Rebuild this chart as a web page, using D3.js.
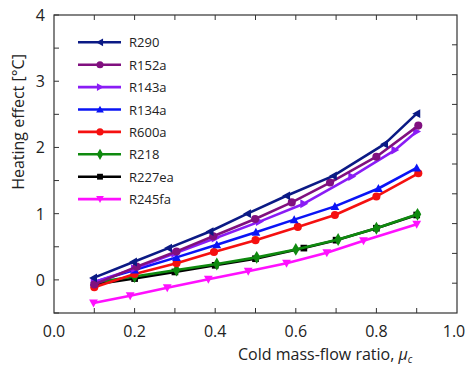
<!doctype html>
<html lang="en-US">
<head>
<meta charset="utf-8">
<title>Heating effect</title>
<script src="https://cdnjs.cloudflare.com/ajax/libs/d3/7.8.5/d3.min.js"></script>
<style>
  html, body { margin: 0; padding: 0; background: #fff; }
  svg { display: block; }
  text { font-family: "Open Sans", "Noto Sans", sans-serif; fill: #222; }
</style>
</head>
<body>
<svg id="chart" width="466" height="367"></svg>
<script>
// series names, in legend order
var names = ["R290", "R152a", "R143a", "R134a", "R600a", "R218", "R227ea", "R245fa"];
var colors = ["#0b1a85", "#80107f", "#8a1cf5", "#0a14f5", "#f51010", "#0f8a0f", "#000000", "#ff10ff"];
var markers = ["triLeft", "circle", "triRight", "triUp", "circle", "diamond", "square", "triDown"];

// cold mass-flow ratio (x) and heating effect (y)
var xR290   = [0.098, 0.197, 0.284, 0.387, 0.48, 0.577, 0.693, 0.82, 0.90];
var yR290   = [0.03, 0.27, 0.48, 0.73, 1.0, 1.27, 1.57, 2.05, 2.51];
var xR152a  = [0.10, 0.205, 0.304, 0.395, 0.499, 0.59, 0.685, 0.80, 0.904];
var yR152a  = [-0.07, 0.2, 0.43, 0.66, 0.92, 1.17, 1.47, 1.86, 2.33];
var xR143a  = [0.10, 0.20, 0.30, 0.40, 0.51, 0.62, 0.739, 0.846, 0.90];
var yR143a  = [-0.03, 0.17, 0.40, 0.63, 0.88, 1.15, 1.56, 1.96, 2.24];
var xR134a  = [0.10, 0.20, 0.304, 0.404, 0.501, 0.596, 0.697, 0.805, 0.90];
var yR134a  = [-0.03, 0.15, 0.34, 0.53, 0.72, 0.91, 1.11, 1.38, 1.69];
var xR600a  = [0.10, 0.20, 0.304, 0.397, 0.50, 0.605, 0.697, 0.80, 0.904];
var yR600a  = [-0.11, 0.09, 0.25, 0.42, 0.60, 0.80, 0.98, 1.26, 1.61];
var xR218   = [0.10, 0.20, 0.304, 0.404, 0.503, 0.60, 0.705, 0.80, 0.902];
var yR218   = [-0.04, 0.05, 0.15, 0.24, 0.34, 0.46, 0.61, 0.78, 0.99];
var xR227ea = [0.10, 0.20, 0.30, 0.40, 0.50, 0.62, 0.70, 0.80, 0.90];
var yR227ea = [-0.07, 0.02, 0.12, 0.22, 0.32, 0.48, 0.60, 0.78, 0.98];
var xR245fa = [0.098, 0.189, 0.281, 0.383, 0.482, 0.577, 0.677, 0.768, 0.90];
var yR245fa = [-0.35, -0.24, -0.12, 0.01, 0.13, 0.25, 0.41, 0.59, 0.84];

var xs = [xR290, xR152a, xR143a, xR134a, xR600a, xR218, xR227ea, xR245fa];
var ys = [yR290, yR152a, yR143a, yR134a, yR600a, yR218, yR227ea, yR245fa];

var xTicks = [0.0, 0.2, 0.4, 0.6, 0.8, 1.0];
var yTicks = [0, 1, 2, 3, 4];

var svg = d3.select("#chart");
var pl = 54, pr = 457, pt = 15, pb = 313;

var x = d3.scaleLinear().domain([0, 1]).range([pl, pr]);
var y = d3.scaleLinear().domain([-0.5, 4]).range([pb, pt]);

// marker symbols
function markerPath(type, s) {
  if (type == "circle") return d3.symbol(d3.symbolCircle, s * s * 0.8)();
  if (type == "square") return d3.symbol(d3.symbolSquare, s * s * 0.7)();
  if (type == "diamond") return d3.symbol(d3.symbolDiamond, s * s * 0.75)();
  var h = s * 0.55;
  if (type == "triUp") return "M0," + (-h) + "L" + h + "," + (h * 0.8) + "L" + (-h) + "," + (h * 0.8) + "Z";
  if (type == "triDown") return "M0," + h + "L" + h + "," + (-h * 0.8) + "L" + (-h) + "," + (-h * 0.8) + "Z";
  if (type == "triLeft") return "M" + (-h) + ",0L" + (h * 0.8) + "," + (-h) + "L" + (h * 0.8) + "," + h + "Z";
  if (type == "triRight") return "M" + h + ",0L" + (-h * 0.8) + "," + (-h) + "L" + (-h * 0.8) + "," + h + "Z";
}

// series, drawn last-to-first so R290 ends on top
var line = d3.line().x(function(d){ return x(d[0]); }).y(function(d){ return y(d[1]); });
for (var i = names.length - 1; i >= 0; i--) {
  var pts = xs[i].map(function(v, k){ return [v, ys[i][k]]; });
  var g = svg.append("g");
  g.append("path").datum(pts).attr("d", line)
    .attr("fill", "none").attr("stroke", colors[i]).attr("stroke-width", 2.6)
    .attr("stroke-linejoin", "round");
  g.selectAll("path.m").data(pts).enter().append("path").attr("class", "m")
    .attr("transform", function(d){ return "translate(" + x(d[0]) + "," + y(d[1]) + ")"; })
    .attr("d", markerPath(markers[i], 8))
    .attr("fill", colors[i]);
}

// frame and ticks
var frame = svg.append("g");
frame.append("rect").attr("x", pl).attr("y", pt).attr("width", pr - pl).attr("height", pb - pt)
  .attr("fill", "none").attr("stroke", "#333").attr("stroke-width", 1.2);

d3.range(1, 10).forEach(function(k){
  var v = k / 10;
  frame.append("line").attr("x1", x(v)).attr("x2", x(v)).attr("y1", pb).attr("y2", pb - 5).attr("stroke", "#333");
  frame.append("line").attr("x1", x(v)).attr("x2", x(v)).attr("y1", pt).attr("y2", pt + 5).attr("stroke", "#333");
});
d3.range(-0.5, 4.01, 0.5).forEach(function(v){
  frame.append("line").attr("x1", pl).attr("x2", pl + 5).attr("y1", y(v)).attr("y2", y(v)).attr("stroke", "#333");
});
// the right side carries ten equal divisions
d3.range(1, 10).forEach(function(k){
  var v = -0.5 + k * 0.45;
  frame.append("line").attr("x1", pr).attr("x2", pr - 5).attr("y1", y(v)).attr("y2", y(v)).attr("stroke", "#333");
});

// tick labels
svg.selectAll("text.xl").data(xTicks).enter().append("text").attr("class", "xl")
  .attr("x", function(d){ return Math.min(x(d), 454); }).attr("y", pb + 24)
  .attr("text-anchor", "middle").attr("font-size", 16)
  .text(function(d){ return d.toFixed(1); });
svg.selectAll("text.yl").data(yTicks).enter().append("text").attr("class", "yl")
  .attr("x", pl - 9).attr("y", function(d){ return y(d) + 6; })
  .attr("text-anchor", "end").attr("font-size", 16)
  .text(function(d){ return d; });

// axis titles
var xt2 = svg.append("text").attr("x", 238).attr("y", 360).attr("font-size", 16);
xt2.append("tspan").text("Cold mass-flow ratio, ");
xt2.append("tspan").attr("font-style", "italic").text("μ");
xt2.append("tspan").attr("font-style", "italic").attr("font-size", 10).attr("dy", 3).text("c");

svg.append("text").attr("transform", "translate(24,122) rotate(-90)")
  .attr("text-anchor", "middle").attr("font-size", 16)
  .text("Heating effect [°C]");

// legend
var leg = svg.append("g");
names.forEach(function(n, i){
  var ly = 42.3 + i * 22.4;
  leg.append("line").attr("x1", 78).attr("x2", 121).attr("y1", ly).attr("y2", ly)
    .attr("stroke", colors[i]).attr("stroke-width", 2.6);
  leg.append("path").attr("transform", "translate(100," + ly + ")")
    .attr("d", markerPath(markers[i], 7)).attr("fill", colors[i]);
  leg.append("text").attr("x", 129).attr("y", ly + 5).attr("font-size", 13).text(n);
});
</script>
</body>
</html>
